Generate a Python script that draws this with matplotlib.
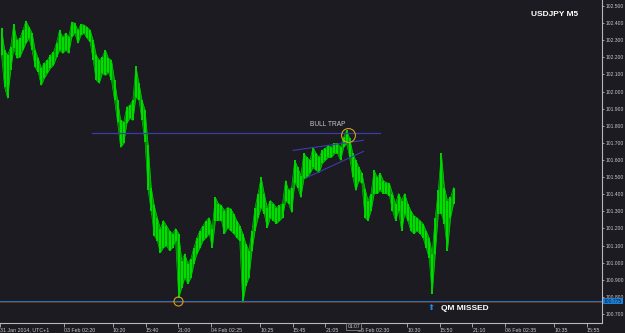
import matplotlib
matplotlib.use("Agg")
import matplotlib.pyplot as plt
import numpy as np

# USDJPY M5, sampled every 6 bars (30 min): high / low per sample
highs = [
    102.371, 102.242, 102.213, 102.260, 102.394, 102.301, 102.312, 102.359, 102.412, 102.377,
    102.342, 102.242, 102.195, 102.137, 102.166, 102.183, 102.213, 102.230, 102.283, 102.359,
    102.318, 102.342, 102.318, 102.406, 102.400, 102.359, 102.394, 102.389, 102.377, 102.359,
    102.301, 102.213, 102.183, 102.201, 102.242, 102.195, 102.183, 102.066, 101.949, 101.832,
    101.820, 101.908, 101.920, 101.949, 102.148, 102.049, 101.949, 101.891, 101.685, 101.439,
    101.334, 101.263, 101.199, 101.246, 101.216, 101.187, 101.170, 101.199, 101.170, 101.011,
    101.052, 100.994, 101.023, 101.088, 101.146, 101.187, 101.216, 101.246, 101.263, 101.199,
    101.381, 101.345, 101.334, 101.304, 101.322, 101.316, 101.287, 101.246, 101.216, 101.170,
    101.111, 101.070, 101.187, 101.322, 101.404, 101.498, 101.404, 101.322, 101.363, 101.345,
    101.322, 101.334, 101.345, 101.480, 101.422, 101.439, 101.598, 101.556, 101.509, 101.638,
    101.615, 101.598, 101.674, 101.638, 101.615, 101.656, 101.668, 101.685, 101.674, 101.697,
    101.697, 101.674, 101.732, 101.773, 101.726, 101.638, 101.598, 101.556, 101.521, 101.433,
    101.363, 101.404, 101.539, 101.498, 101.521, 101.480, 101.468, 101.463, 101.404, 101.345,
    101.404, 101.363, 101.404, 101.345, 101.304, 101.275, 101.263, 101.246, 101.228, 101.187,
    101.146, 101.052, 101.263, 101.422, 101.638, 101.439, 101.363, 101.381, 101.439,
]
lows = [
    102.213, 102.025, 101.961, 102.125, 102.254, 102.195, 102.201, 102.242, 102.283, 102.312,
    102.242, 102.142, 102.113, 102.037, 102.078, 102.107, 102.137, 102.154, 102.201, 102.242,
    102.224, 102.242, 102.224, 102.318, 102.342, 102.283, 102.330, 102.342, 102.312, 102.289,
    102.183, 102.066, 102.049, 102.107, 102.095, 102.113, 102.066, 101.949, 101.820, 101.674,
    101.697, 101.814, 101.844, 101.832, 101.967, 101.949, 101.832, 101.703, 101.422, 101.304,
    101.158, 101.129, 101.058, 101.088, 101.099, 101.070, 101.088, 101.129, 100.795, 100.853,
    100.912, 100.877, 100.912, 100.994, 101.052, 101.088, 101.129, 101.146, 101.170, 101.088,
    101.246, 101.246, 101.246, 101.170, 101.205, 101.187, 101.170, 101.146, 101.129, 100.765,
    100.865, 100.912, 101.070, 101.187, 101.263, 101.322, 101.287, 101.205, 101.263, 101.246,
    101.228, 101.246, 101.263, 101.363, 101.345, 101.293, 101.468, 101.439, 101.381, 101.492,
    101.498, 101.521, 101.556, 101.539, 101.527, 101.580, 101.598, 101.615, 101.615, 101.638,
    101.638, 101.598, 101.674, 101.697, 101.615, 101.498, 101.422, 101.480, 101.463, 101.263,
    101.246, 101.304, 101.404, 101.404, 101.422, 101.404, 101.404, 101.392, 101.304, 101.246,
    101.304, 101.187, 101.287, 101.246, 101.187, 101.170, 101.187, 101.170, 101.146, 101.088,
    101.029, 100.818, 101.052, 101.287, 101.287, 101.228, 101.070, 101.263, 101.345,
]
bars_per_sample = 6

price_ticks = [102.5, 102.4, 102.3, 102.2, 102.1, 102.0, 101.9, 101.8, 101.7, 101.6,
               101.5, 101.4, 101.3, 101.2, 101.1, 101.0, 100.9, 100.8, 100.7]
time_labels = ["31 Jan 2014, UTC+1", "03 Feb 02:20", "10:20", "15:40", "21:00",
               "04 Feb 02:25", "10:25", "15:45", "21:05", "05 Feb 02:30", "10:30",
               "15:50", "21:10", "06 Feb 02:35", "10:35", "15:55"]
time_bars = [0, 126, 222, 286, 350, 415, 511, 575, 639, 704, 800, 864, 928, 993, 1089, 1153]

bid_price = 100.775
resistance = 101.757

BG = "#1c1b22"
GREEN = "#00e000"
FG = "#c8c8c8"
AXIS = "#b8b8b8"
FONT = "Liberation Sans"

fig = plt.figure(figsize=(6.25, 3.33), dpi=100, facecolor=BG)
ax = fig.add_axes([0, 0.031, 0.9635, 0.969], facecolor=BG)

x = np.arange(len(highs)) * bars_per_sample + bars_per_sample / 2
# body of the price band, then the individual bar ranges on top
ax.fill_between(x, lows, highs, color="#009a00", lw=0, zorder=2)
ax.vlines(x, lows, highs, color=GREEN, lw=1.4, zorder=3)
ax.plot(x, highs, color="#00c800", lw=0.5, zorder=3)
ax.plot(x, lows, color="#00c800", lw=0.5, zorder=3)

ax.set_xlim(0, 1183)
ax.set_ylim(100.649, 102.535)

# trend lines and markers
ax.plot([181, 747], [resistance, resistance], color="#3c3ca8", lw=0.9, zorder=4)
ax.plot([576, 714], [101.656, 101.715], color="#3c3ca8", lw=0.8, zorder=4)
ax.plot([603, 714], [101.498, 101.650], color="#3c3ca8", lw=0.8, zorder=4)
ax.axhline(bid_price, color="#2a6fb5", lw=0.8, zorder=4)
ax.axhline(bid_price - 0.006, color="#6a3a1e", lw=0.6, zorder=4)
ax.plot([684], [101.744], marker="o", ms=10, mfc="none", mec="#d4a21a", mew=0.8, zorder=5)
ax.plot([350], [100.777], marker="o", ms=6.5, mfc="none", mec="#d4a21a", mew=0.8, zorder=5)

ax.text(609, 101.785, "BULL TRAP", color=FG, fontsize=4.8, ha="left", va="bottom",
        family=FONT)
ax.text(0.882, 0.955, "USDJPY M5", transform=ax.transAxes, color="white", fontsize=6,
        ha="left", va="center", fontweight="bold", family=FONT)
ax.text(0.716, 0.047, "\u2b06", transform=ax.transAxes, color="#1e88e5", fontsize=6,
        ha="center", va="center", family="DejaVu Sans")
ax.text(0.733, 0.045, "QM MISSED", transform=ax.transAxes, color="white", fontsize=6,
        ha="left", va="center", fontweight="bold", family=FONT)

# axes styling
for side in ("left", "top"):
    ax.spines[side].set_visible(False)
for side in ("right", "bottom"):
    ax.spines[side].set_color(AXIS)
    ax.spines[side].set_linewidth(0.8)

ax.yaxis.tick_right()
ax.set_yticks(price_ticks)
ax.set_yticklabels([f"{p:.3f}" for p in price_ticks], family=FONT)
ax.tick_params(axis="y", colors=AXIS, labelcolor=FG, labelsize=3.6, length=1.5,
               width=0.6, pad=0.8)
ax.set_xticks(time_bars)
ax.set_xticklabels(time_labels, family=FONT)
ax.tick_params(axis="x", colors=AXIS, labelcolor=FG, labelsize=3.8, length=3,
               width=0.6, pad=0.5)
for lbl in ax.get_xticklabels():
    lbl.set_horizontalalignment("left")

# current price tag on the price axis
ax.annotate(f"{bid_price:.3f}", xy=(1.0, bid_price), xycoords=("axes fraction", "data"),
            xytext=(1.2, 0), textcoords="offset points", color="#0d1b2a", fontsize=3.6,
            ha="left", va="center", family=FONT,
            bbox=dict(boxstyle="square,pad=0.12", fc="#1e7fd8", ec="none"),
            annotation_clip=False, zorder=6)

# crosshair time tag on the time axis
ax.annotate("01:07", xy=(695, 0), xycoords=("data", "axes fraction"),
            xytext=(0, -1), textcoords="offset points", color=FG, fontsize=3.6,
            ha="center", va="top", family=FONT,
            bbox=dict(boxstyle="square,pad=0.2", fc=BG, ec="#9a9a9a", lw=0.5),
            annotation_clip=False, zorder=6)

fig.savefig("out.png", dpi=100, facecolor=BG)
